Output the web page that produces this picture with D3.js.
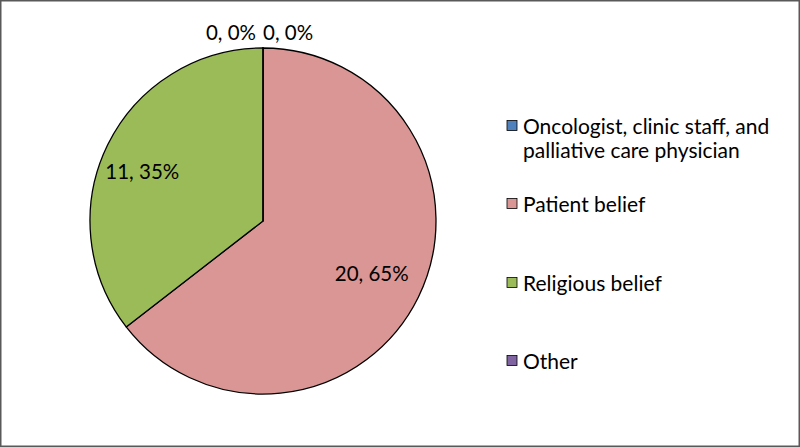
<!DOCTYPE html>
<html><head><meta charset="utf-8">
<script src="https://cdn.jsdelivr.net/npm/d3@7"></script>
<style>body{margin:0;background:#fff}svg{display:block}</style>
</head><body>
<script>
const categories = ["Oncologist, clinic staff, and palliative care physician", "Patient belief", "Religious belief", "Other"];
const legendLines = [["Oncologist, clinic staff, and", "palliative care physician"], ["Patient belief"], ["Religious belief"], ["Other"]];
const values = [0, 20, 11, 0];
const colors = ["#4F81BD", "#D99694", "#9BBB59", "#8064A2"];

const W = 800, H = 447;
const svg = d3.select("body").append("svg").attr("width", W).attr("height", H);
svg.append("rect").attr("x", 0.75).attr("y", 0.75).attr("width", W - 1.5).attr("height", H - 1.5)
  .attr("fill", "#fff").attr("stroke", "#595959").attr("stroke-width", 1.5);

const cx = 263, cy = 221, r = 173;
const total = d3.sum(values);
const pie = d3.pie().sort(null).value(d => d)(values);
const arc = d3.arc().innerRadius(0).outerRadius(r);
const g = svg.append("g").attr("transform", `translate(${cx},${cy})`);
g.selectAll("path").data(pie).join("path")
  .attr("d", arc).attr("fill", (d, i) => colors[i])
  .attr("stroke", "#000").attr("stroke-width", 1.3).attr("stroke-linejoin", "round");

const font = "Lato, 'Open Sans', sans-serif";
const labelArc = d3.arc().innerRadius(r * 0.7).outerRadius(r * 0.7);
pie.forEach((d, i) => {
  const txt = `${d.data}, ${Math.round(d.data / total * 100)}%`;
  let x, y, anchor;
  if (d.data === 0) {
    y = -r - 8;
    x = i === 0 ? 0 : -7;
    anchor = i === 0 ? "start" : "end";
  } else {
    [x, y] = labelArc.centroid(d);
    if (i === 2) { x -= 12; y += 4; }
    anchor = "middle";
    y += 7;
  }
  g.append("text").attr("x", x).attr("y", y).attr("text-anchor", anchor)
    .attr("font-family", font).attr("font-size", 20.5).attr("fill", "#000").text(txt);
});

const legendY = [126, 204, 283, 361];
const lg = svg.append("g");
categories.forEach((c, i) => {
  lg.append("rect").attr("x", 507).attr("y", legendY[i] - 5.5).attr("width", 10).attr("height", 10)
    .attr("fill", colors[i]).attr("stroke", "#000").attr("stroke-width", 0.8);
  legendLines[i].forEach((line, j) => {
    lg.append("text").attr("x", 523).attr("y", legendY[i] + 7.5 + j * 24)
      .attr("font-family", font).attr("font-size", 21).attr("fill", "#000").text(line);
  });
});
</script>
</body></html>
